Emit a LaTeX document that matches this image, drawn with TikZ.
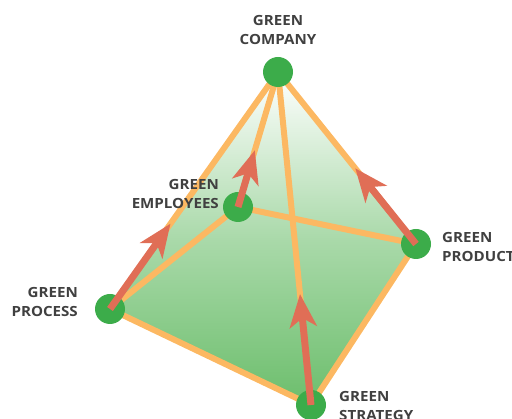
\documentclass[tikz,border=0pt]{standalone}
\usepackage{fontspec}
\newfontfamily\labfont[FakeStretch=1.08]{Open Sans}
\usepackage{xcolor}
\usetikzlibrary{arrows.meta, calc}

\definecolor{facegreen}{RGB}{108,190,108}
\definecolor{dotgreen}{RGB}{60,172,74}
\definecolor{edgeorange}{RGB}{252,184,98}
\definecolor{arrowred}{RGB}{224,110,86}
\definecolor{labelgray}{RGB}{64,64,64}

\begin{document}
\begin{tikzpicture}[
  x=1pt, y=-1pt,
  edge/.style={edgeorange, line width=6pt, line cap=round, line join=round},
  dot/.style={circle, fill=dotgreen, minimum size=30pt, inner sep=0pt},
  lab/.style={inner sep=0pt, text=labelgray,
              font=\labfont\bfseries\fontsize{14}{19.5}\selectfont},
  arr/.style={arrowred, line width=7pt,
              -{Stealth[length=33pt, width=27pt, inset=9pt]}},
]
\useasboundingbox (0,0) rectangle (512,419);

\coordinate (comp) at (278,72);
\coordinate (empl) at (238,207);
\coordinate (prod) at (416,244);
\coordinate (proc) at (110,309);
\coordinate (strat) at (311,405);

% pyramid faces
\shade[top color=white, bottom color=facegreen, middle color=facegreen!58]
  (comp) -- (prod) -- (strat) -- (proc) -- cycle;

% edges
\draw[edge] (proc) -- (comp) -- (prod) -- (strat) -- cycle;
\draw[edge] (comp) -- (strat);
\draw[edge] (comp) -- (empl);
\draw[edge] (proc) -- (empl) -- (prod);

\node[dot] (ncomp) at (comp) {};
\node[dot] (nempl) at (empl) {};
\node[dot] (nprod) at (prod) {};
\node[dot] (nproc) at (proc) {};
\node[dot] (nstrat) at (strat) {};

\coordinate (tproc) at ($(proc)!0.36!(comp)$);
\coordinate (templ) at ($(empl)!0.42!(comp)$);
\coordinate (tprod) at ($(prod)!0.44!(comp)$);
\coordinate (tstrat) at ($(strat)!0.333!(comp)$);

\draw[arr] (nproc.center) -- (tproc);
\draw[arr] (nempl.center) -- (templ);
\draw[arr] (nprod.center) -- (tprod);
\draw[arr] (nstrat.center) -- (tstrat);

\node[lab, align=center] (lcomp) at (278,30) {GREEN\\COMPANY};
\node[lab, align=right, anchor=east] (lempl) at (219,194) {GREEN\\EMPLOYEES};
\node[lab, align=left, anchor=west] (lprod) at (442,247) {GREEN\\PRODUCT};
\node[lab, align=right, anchor=east] (lproc) at (78,302) {GREEN\\PROCESS};
\node[lab, align=left, anchor=west] (lstrat) at (339,406) {GREEN\\STRATEGY};
\end{tikzpicture}
\end{document}
